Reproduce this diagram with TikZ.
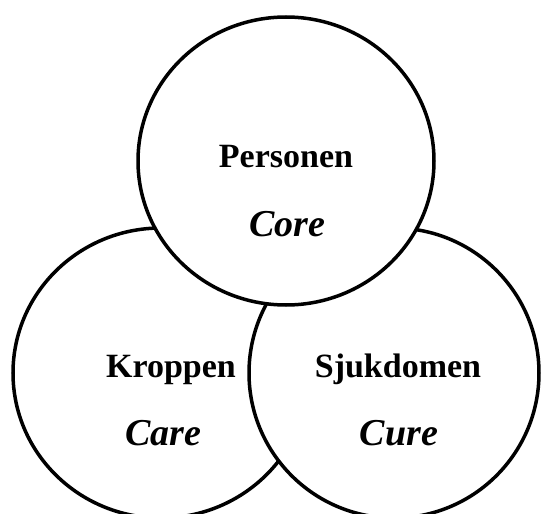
\documentclass[tikz,border=0pt]{standalone}
\usepackage{fontspec}
\setmainfont{Liberation Serif}
\begin{document}
\begin{tikzpicture}[x=1pt,y=-1pt,
  ring/.style={draw=black,fill=white,line width=3.5pt},
  head/.style={anchor=base,font=\fontsize{34}{38}\selectfont\bfseries,inner sep=0pt},
  sub/.style={anchor=base,font=\fontsize{38}{40}\selectfont\bfseries\itshape,inner sep=0pt}]
\useasboundingbox (0,0) rectangle (542,514);
\clip (0,0) rectangle (542,514);
\path[ring] (161,373) ellipse [x radius=148, y radius=145];
\path[ring] (394,373) ellipse [x radius=145, y radius=145];
\path[ring] (286,161) ellipse [x radius=148, y radius=144];
\node[head] (p) at (286,167) {Personen};
\node[sub] (pc) at (287,236) {Core};
\node[head] (k) at (171,377) {Kroppen};
\node[sub] (kc) at (163,445) {Care};
\node[head] (s) at (398,377) {Sjukdomen};
\node[sub] (sc) at (399,445) {Cure};
\end{tikzpicture}
\end{document}
